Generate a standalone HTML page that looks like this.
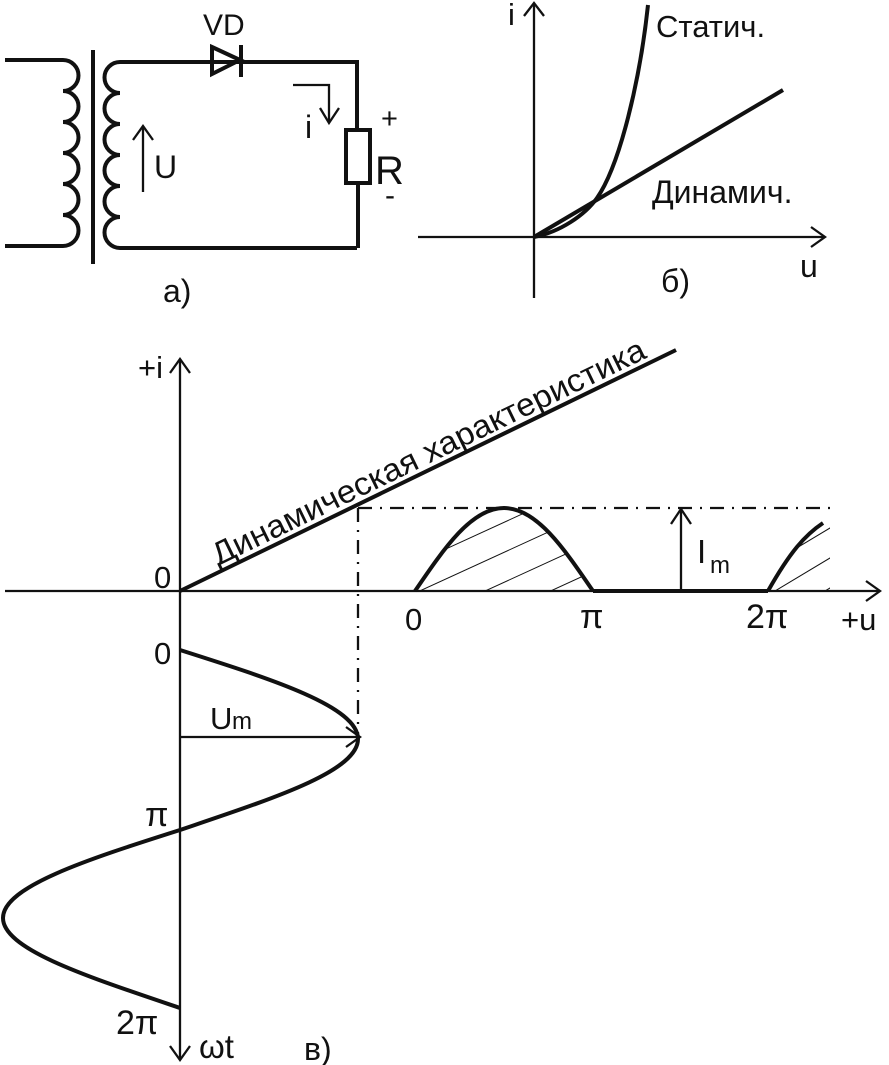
<!DOCTYPE html>
<html><head><meta charset="utf-8"><style>
html,body{margin:0;padding:0;background:#fff;width:889px;height:1065px;overflow:hidden}
svg{display:block}
text{font-family:"Liberation Sans",sans-serif;fill:#111}
</style></head><body>
<svg width="889" height="1065" viewBox="0 0 889 1065" xmlns="http://www.w3.org/2000/svg">
<defs>
<clipPath id="c1"><path d="M415,591 C444.7,547.4 471.7,508 504,508 C536.3,508 563.3,547.4 593,591 Z"/></clipPath>
<clipPath id="c2"><path d="M768,591 C790,552 805,535 823,523 L830,523 L830,591 Z"/></clipPath>
</defs>
<g fill="none" stroke="#111" stroke-width="4">
<path d="M5,60 H63 a8,8 0 0 1 0,31 a8,8 0 0 1 0,31 a8,8 0 0 1 0,31 a8,8 0 0 1 0,31 a8,8 0 0 1 0,31 a8,8 0 0 1 0,31 H5"/>
<line x1="93" y1="50" x2="93" y2="264"/>
<path d="M357,248 H120 a8,8 0 0 1 0,-31 a8,8 0 0 1 0,-31 a8,8 0 0 1 0,-31 a8,8 0 0 1 0,-31 a8,8 0 0 1 0,-31 a8,8 0 0 1 0,-31 H357 V130"/>
<path d="M212,47 L240,60 L212,74 Z"/>
<line x1="241" y1="45" x2="241" y2="77"/>
<rect x="346" y="130" width="24" height="53"/>
<line x1="358" y1="183" x2="358" y2="248"/>
</g>
<g fill="none" stroke="#111" stroke-width="2.3">
<line x1="143" y1="192" x2="143" y2="126"/>
<path d="M133,140 L143,126 L153,140"/>
<path d="M293,85 H329 V123"/>
<path d="M320,108 L329,123 L339,108"/>
</g>
<text x="203" y="35" font-size="30">VD</text>
<text x="154" y="178" font-size="32">U</text>
<text x="305" y="138" font-size="32">i</text>
<text x="381" y="128" font-size="29">+</text>
<text x="375" y="184" font-size="40">R</text>
<text x="385" y="205" font-size="30">-</text>
<text x="163" y="302" font-size="32">a)</text>
<g fill="none" stroke="#111" stroke-width="2.3">
<line x1="534" y1="298" x2="534" y2="4"/>
<path d="M524,16 L534,3 L544,16"/>
<line x1="418" y1="237" x2="824" y2="237"/>
<path d="M811,227 L825,237 L811,247"/>
</g>
<g fill="none" stroke="#111" stroke-width="4">
<line x1="534" y1="237" x2="783" y2="90"/>
<path d="M534,237 C560,232 585,215 597,198 C620,165 640,80 648,5"/>
</g>
<text x="656" y="37" font-size="31">Статич.</text>
<text x="652" y="203" font-size="32">Динамич.</text>
<text x="508" y="25" font-size="31">i</text>
<text x="800" y="277" font-size="32">u</text>
<text x="661" y="292" font-size="32">б)</text>
<g fill="none" stroke="#111" stroke-width="2.3">
<line x1="180" y1="360" x2="180" y2="1060"/>
<path d="M170,373 L180,359 L190,373"/>
<path d="M170,1046 L180,1060 L190,1046"/>
<line x1="5" y1="591" x2="880" y2="591"/>
<path d="M866,581 L880,591 L866,601"/>
<line x1="681" y1="591" x2="681" y2="510"/>
<path d="M671,524 L681,509 L691,524"/>
<line x1="180" y1="737" x2="358" y2="737"/>
<path d="M346,727 L360,737 L346,747"/>
<line x1="358" y1="508" x2="830" y2="508" stroke-dasharray="14,8,2,8"/>
<line x1="358" y1="508" x2="358" y2="735" stroke-dasharray="14,8,2,8"/>
</g>
<g stroke="#111" stroke-width="1" clip-path="url(#c1)">
<line x1="400" y1="630" x2="640" y2="520"/>
<line x1="400" y1="600" x2="640" y2="490"/>
<line x1="400" y1="570" x2="640" y2="460"/>
<line x1="400" y1="540" x2="640" y2="430"/>
<line x1="400" y1="510" x2="640" y2="400"/>
<line x1="400" y1="660" x2="640" y2="550"/>
</g>
<g stroke="#111" stroke-width="1" clip-path="url(#c2)">
<line x1="760" y1="630" x2="860" y2="570"/>
<line x1="760" y1="600" x2="860" y2="540"/>
<line x1="760" y1="570" x2="860" y2="510"/>
<line x1="760" y1="540" x2="860" y2="480"/>
</g>
<g fill="none" stroke="#111" stroke-width="4">
<line x1="180" y1="591" x2="676" y2="350"/>
<path d="M415,591 C444.7,547.4 471.7,508 504,508 C536.3,508 563.3,547.4 593,591"/>
<line x1="593" y1="591" x2="768" y2="591"/>
<path d="M768,591 C790,552 805,535 823,523"/>
<path d="M180,650 C273.5,679.7 358,706.7 358,739 C358,771.3 273.5,798.3 180,830 C86.5,859.7 3,886.7 3,918 C3,949.3 86.5,976.3 180,1008"/>
</g>
<text transform="translate(218,566) rotate(-25.9)" font-size="32" textLength="478" lengthAdjust="spacingAndGlyphs">Динамическая характеристика</text>
<text x="138" y="378" font-size="31">+i</text>
<text x="154" y="588" font-size="31">0</text>
<text x="154" y="664" font-size="31">0</text>
<text x="405" y="630" font-size="31">0</text>
<text x="580" y="628" font-size="34">π</text>
<text x="746" y="628" font-size="34">2π</text>
<text x="841" y="630" font-size="31">+u</text>
<text x="697" y="563" font-size="33">I</text>
<text x="710" y="573" font-size="24">m</text>
<text x="210" y="729" font-size="31">U</text>
<text x="232" y="729" font-size="24">m</text>
<text x="145" y="826" font-size="34">π</text>
<text x="116" y="1034" font-size="34">2π</text>
<text x="199" y="1058" font-size="33">ωt</text>
<text x="304" y="1060" font-size="32">в)</text>
</svg>
</body></html>
